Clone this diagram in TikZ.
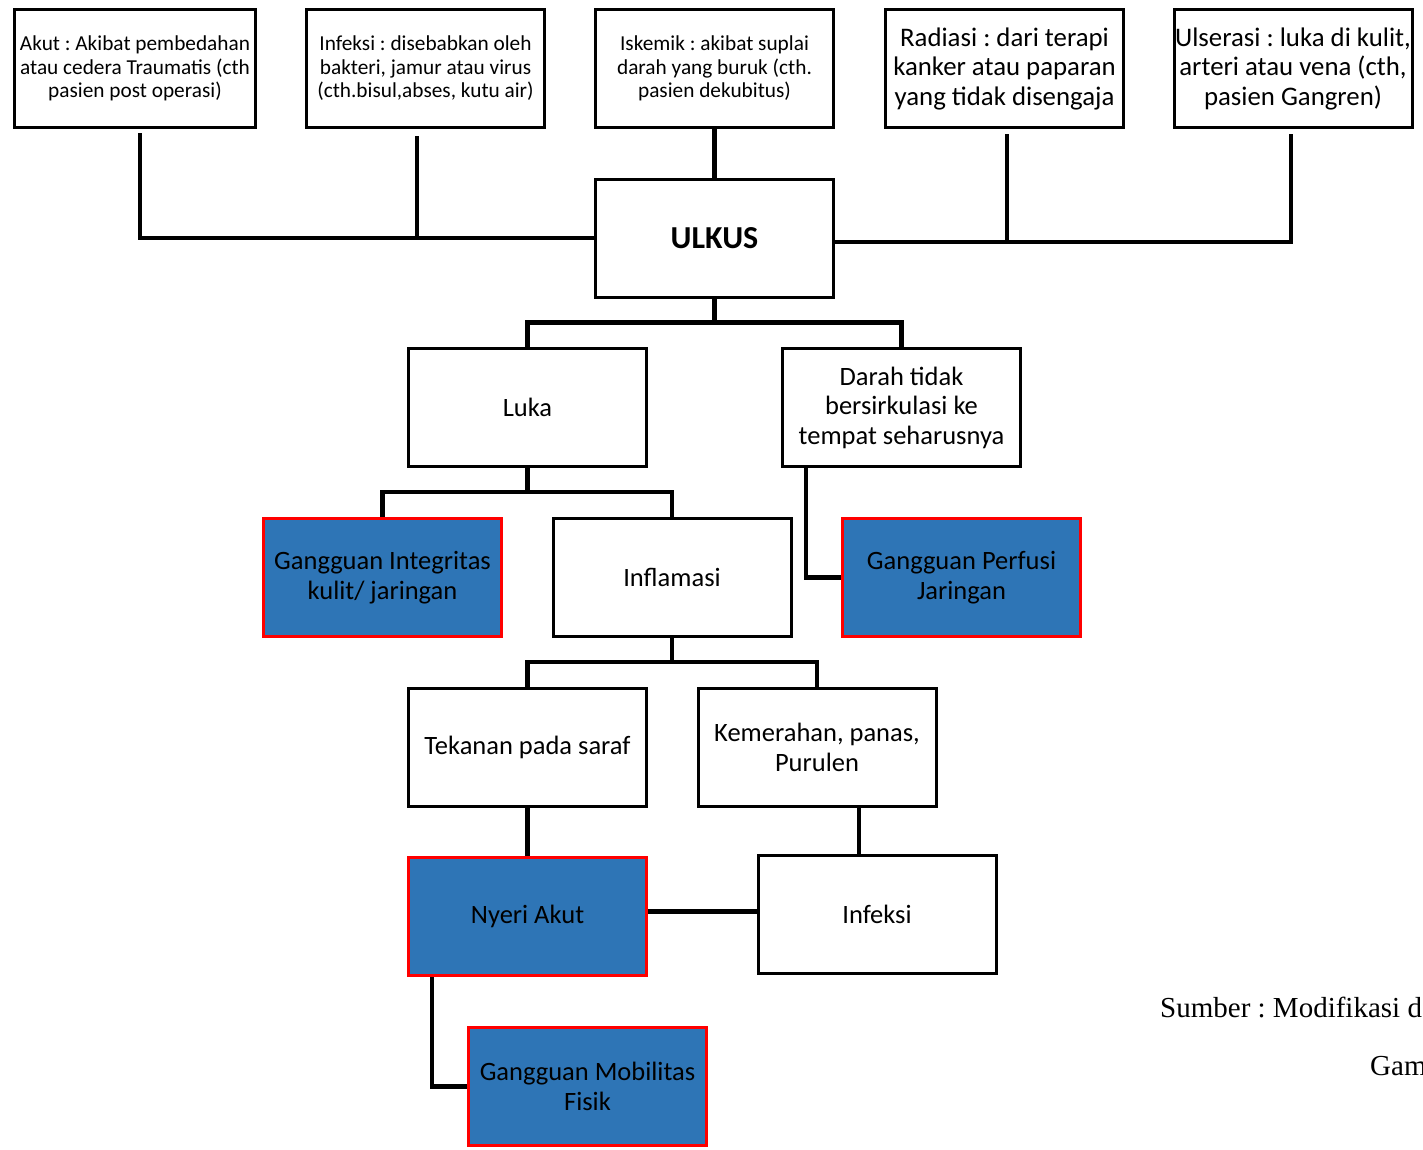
\documentclass[tikz,border=0pt]{standalone}
\usepackage{fontspec}
\setmainfont{Carlito}
\newfontfamily\serifA{Liberation Serif}
\definecolor{blueF}{RGB}{46,117,182}
\frenchspacing
\begin{document}
\begin{tikzpicture}[x=1pt,y=-1pt,
  box/.style={draw=black, line width=3pt, minimum width=238pt, minimum height=118pt, align=center, inner sep=0pt, fill=white, font=\fontsize{26.5}{29.5}\selectfont},
  small/.style={font=\fontsize{21.3}{23.5}\selectfont},
  diag/.style={box, fill=blueF, draw=red},
  conn/.style={line width=4.5pt}]
\useasboundingbox (0,0) rectangle (1423,1149);
% top row
\node[box, small, minimum width=241pt] (akut) at (135,68.5) {Akut : Akibat pembedahan\\atau cedera Traumatis (cth\\pasien post operasi)};
\node[box, small] (infT) at (425.5,68.5) {Infeksi : disebabkan oleh\\bakteri, jamur atau virus\\(cth.bisul,abses, kutu air)};
\node[box, small] (isk) at (714.5,68.5) {Iskemik : akibat suplai\\darah yang buruk (cth.\\pasien dekubitus)};
\node[box, font=\fontsize{26.8}{29.5}\selectfont] (rad) at (1004.5,68.5) {Radiasi : dari terapi\\kanker atau paparan\\yang tidak disengaja};
\node[box, font=\fontsize{26.8}{29.5}\selectfont] (uls) at (1293,68.5) {Ulserasi : luka di kulit,\\arteri atau vena (cth,\\pasien Gangren)};
% center
\node[box, font=\fontsize{32}{36}\selectfont\bfseries] (ulkus) at (714.5,238) {ULKUS};
\node[box] (luka) at (527.5,407.5) {Luka};
\node[box] (darah) at (901.5,407.5) {Darah tidak\\bersirkulasi ke\\tempat seharusnya};
\node[diag] (gi) at (382.5,577.5) {Gangguan Integritas\\kulit/ jaringan};
\node[box] (infl) at (672,577.5) {Inflamasi};
\node[diag] (gp) at (961.5,577.5) {Gangguan Perfusi\\Jaringan};
\node[box] (tek) at (527.5,747.5) {Tekanan pada saraf};
\node[box] (kem) at (817,747.5) {Kemerahan, panas,\\Purulen};
\node[diag] (nyeri) at (527.5,916.5) {Nyeri Akut};
\node[box] (infk) at (877,914.5) {Infeksi};
\node[diag] (mob) at (587.5,1086.5) {Gangguan Mobilitas\\Fisik};
% connectors top
\draw[conn] ([xshift=5pt,yshift=-4pt]akut.south) |- (ulkus.west);
\coordinate (infTb) at ([xshift=-8.5pt,yshift=-7pt]infT.south);
\draw[conn] (infTb) -- (infTb |- ulkus.west);
\draw[conn] (isk.south) -- (ulkus.north);
\draw[conn] ([xshift=-2pt,yshift=-5pt]uls.south) |- ([yshift=-4pt]ulkus.east);
\coordinate (radb) at ([xshift=2.5pt,yshift=-5pt]rad.south);
\draw[conn] (radb) -- ([yshift=-2pt]radb |- ulkus.east);
% tree
\draw[conn] (ulkus.south) -- ++(0,24) -| (luka.north);
\draw[conn] (ulkus.south) -- ++(0,24) -| (darah.north);
\draw[conn] (luka.south) -- ++(0,24) -| (gi.north);
\draw[conn] (luka.south) -- ++(0,24) -| (infl.north);
\draw[conn] ([xshift=-95.5pt]darah.south) |- (gp.west);
\draw[conn] (infl.south) -- ++(0,24) -| (tek.north);
\draw[conn] (infl.south) -- ++(0,24) -| (kem.north);
\draw[conn] (tek.south) -- (nyeri.north);
\coordinate (kemb) at ([xshift=42pt]kem.south);
\draw[conn] (kemb) -- (kemb |- infk.north);
\draw[conn] ([yshift=5pt]nyeri.east) -- ([yshift=5pt]nyeri.east -| infk.west);
\draw[conn] ([xshift=-95.5pt]nyeri.south) |- (mob.west);
% caption
\node[anchor=base west, inner sep=0pt, font=\serifA\fontsize{29}{34}\selectfont] (sumber) at (1160,1017) {Sumber : Modifikasi d};
\node[anchor=base west, inner sep=0pt, font=\serifA\fontsize{29}{34}\selectfont] (gam) at (1370,1075) {Gam};
\end{tikzpicture}
\end{document}
